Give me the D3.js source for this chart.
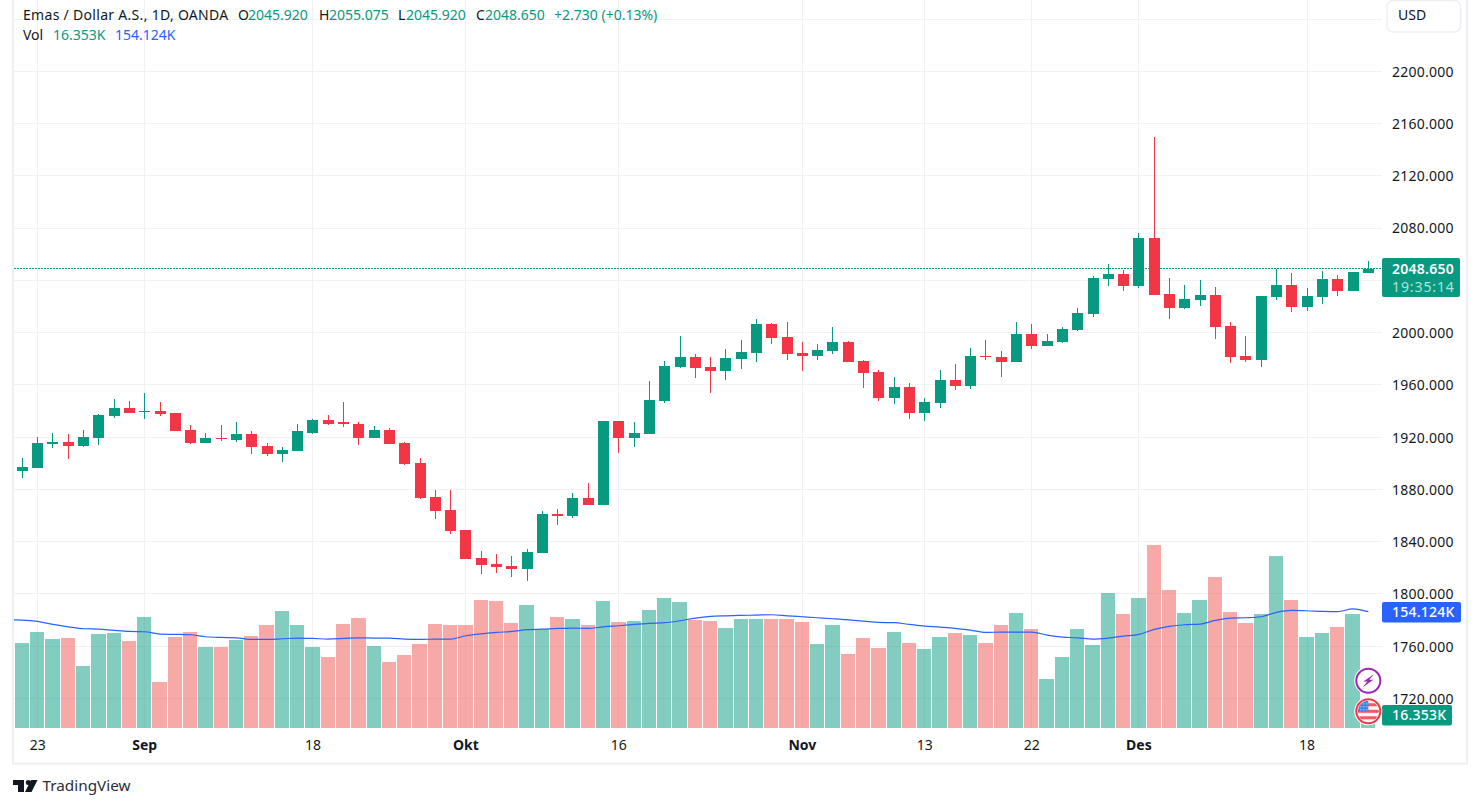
<!DOCTYPE html>
<html>
<head>
<meta charset="utf-8">
<script src="https://cdn.jsdelivr.net/npm/d3@7"></script>
<style>
  html, body { margin: 0; padding: 0; background: #fff; }
  svg { display: block; font-family: "Noto Sans", sans-serif; }
</style>
</head>
<body>
<div id="chart"></div>
<script>
// Daily candles
const opens = [1894.4,1896.7,1915.1,1916.6,1913.5,1919.7,1936.5,1942.6,1939.8,1940.3,1938.8,1925.8,1915.8,1919.7,1918.1,1922.7,1913.5,1907.4,1909.7,1923.5,1933.4,1931.2,1930.4,1919.5,1925.6,1915.7,1900.3,1874.3,1864.3,1849.0,1827.6,1823.0,1821.5,1819.2,1831.4,1861.3,1859.7,1873.5,1868.2,1932.5,1919.5,1922.6,1947.4,1973.4,1981.1,1973.4,1970.4,1979.6,1984.2,2006.4,1996.4,1984.2,1981.9,1985.7,1992.6,1978.0,1969.6,1949.7,1958.1,1938.2,1945.9,1963.5,1958.9,1981.9,1981.1,1977.3,1998.7,1989.5,1992.6,2001.8,2014.0,2040.8,2044.7,2035.5,2072.2,2029.4,2018.6,2024.8,2028.6,2004.9,1981.9,1978.8,2027.1,2036.3,2019.4,2027.1,2040.8,2031.7,2045.92];
const highs = [1904.3,1920.4,1923.5,1922.7,1925.8,1938.0,1949.5,1948.0,1953.4,1946.5,1938.8,1929.6,1923.5,1929.6,1931.2,1924.3,1915.8,1912.8,1930.4,1934.2,1937.3,1947.2,1931.7,1928.7,1927.1,1916.4,1904.2,1879.7,1879.7,1849.0,1832.9,1830.6,1829.1,1834.5,1863.6,1865.1,1877.4,1885.0,1932.5,1932.5,1931.7,1962.7,1978.0,1997.2,1983.4,1981.1,1987.2,1994.1,2010.2,2007.1,2007.9,1992.6,1991.1,2004.1,1993.4,1978.8,1971.1,1965.8,1961.2,1949.7,1971.1,1975.7,1988.0,1994.1,1985.7,2007.9,2006.4,1998.7,2004.1,2018.6,2043.1,2052.3,2047.7,2076.1,2149.7,2041.6,2036.3,2040.1,2034.7,2007.9,1997.2,2027.8,2048.5,2045.4,2034.0,2047.0,2043.9,2046.2,2055.075];
const lows = [1889.0,1896.7,1912.0,1903.6,1912.8,1914.3,1935.0,1938.8,1934.2,1936.5,1925.0,1915.1,1915.8,1917.4,1916.6,1907.4,1905.9,1901.3,1909.7,1922.7,1929.6,1928.1,1914.1,1919.5,1914.9,1898.8,1872.8,1857.5,1846.0,1826.8,1815.3,1816.1,1813.0,1810.0,1831.4,1852.9,1858.2,1868.2,1868.2,1908.0,1912.6,1922.6,1945.9,1972.7,1965.0,1953.5,1963.5,1971.9,1977.3,1991.1,1978.8,1970.4,1978.8,1983.4,1977.3,1957.4,1947.4,1945.1,1933.6,1932.1,1942.0,1955.8,1956.6,1978.8,1965.8,1977.3,1987.2,1989.5,1991.8,2001.0,2011.7,2035.5,2031.7,2034.0,2028.6,2010.2,2017.9,2020.2,1994.9,1976.5,1977.3,1973.4,2024.8,2015.6,2016.3,2021.7,2027.8,2031.7,2045.92];
const closes = [1897.5,1915.8,1916.6,1913.5,1920.4,1937.3,1942.6,1938.8,1940.3,1938.0,1925.0,1915.8,1919.7,1918.9,1922.7,1912.8,1907.4,1910.5,1924.3,1933.4,1930.4,1930.4,1919.5,1925.6,1914.9,1899.6,1873.5,1863.6,1848.3,1826.8,1822.2,1820.7,1819.2,1832.2,1861.3,1859.7,1873.5,1868.2,1932.5,1919.5,1923.3,1948.2,1974.2,1981.1,1972.7,1970.4,1980.3,1984.9,2006.4,1995.7,1983.4,1981.9,1986.5,1992.6,1977.3,1968.9,1949.7,1958.1,1938.2,1946.6,1963.5,1958.9,1981.9,1981.1,1977.3,1998.7,1989.5,1993.4,2002.6,2014.8,2041.6,2044.7,2035.5,2072.2,2028.6,2018.6,2025.5,2028.6,2004.1,1981.1,1978.8,2027.8,2036.3,2019.4,2027.8,2040.8,2031.7,2046.2,2048.65];

// Volume and its moving average, in thousands
const volumes = [112.4,127.1,117.8,119.1,81.9,124.4,125.7,115.1,147.0,60.7,120.4,127.1,107.1,107.1,116.4,121.7,136.4,154.9,136.4,107.1,93.9,137.7,145.6,108.5,87.2,96.5,111.1,137.7,136.4,136.4,169.6,168.2,139.0,162.9,131.0,147.0,144.3,136.4,168.2,140.3,141.7,156.3,172.2,166.9,143.0,141.7,132.4,144.3,144.3,144.3,144.3,140.3,111.1,136.4,97.8,119.1,105.8,127.1,112.4,104.5,120.4,125.7,123.1,112.4,136.4,152.3,131.0,64.6,93.9,131.0,109.8,178.8,151.0,172.2,242.6,182.8,152.3,169.6,200.1,153.6,139.0,151.0,228.0,169.6,120.4,125.7,133.7,151.0,16.353];
const volumeMA = [143.0,141.2,137.2,134.1,131.5,131.0,129.3,127.9,127.5,124.4,124.0,123.5,120.9,120.0,119.5,117.3,117.3,118.2,119.1,118.6,117.8,118.6,119.5,119.1,119.1,117.8,117.3,117.8,117.8,122.2,124.8,126.6,127.9,130.2,131.0,131.9,132.4,131.9,134.1,135.5,137.2,138.6,139.5,142.1,145.6,147.9,148.7,149.2,149.6,150.1,148.7,147.4,146.1,144.8,143.4,141.7,139.9,139.5,137.2,135.0,133.7,131.9,129.7,126.6,127.1,127.1,127.1,123.1,120.4,119.5,117.8,119.1,121.7,124.0,130.6,134.6,136.8,137.7,142.5,145.6,146.1,147.4,153.2,155.8,155.4,154.5,154.1,158.0,154.124];
const volumeMAOffscreen = 143.4;  // the bar before the first one, only its line end shows

// Axis ticks
const priceTicks = [1720,1760,1800,1840,1880,1920,1960,2000,2040,2080,2120,2160,2200,2240];
const hiddenPriceLabels = [2040,2240];  // covered by the price tag and the USD button
const timeTickIndex = [1,8,19,29,39,51,59,66,73,84];
const timeTickLabel = ["23","Sep","18","Okt","16","Nov","13","22","Des","18"];
const monthLabels = ["Sep","Okt","Nov","Des"];

// Header and tag texts
const lastPrice = 2048.65;
const lastVolume = 16.353;
const lastMA = 154.124;

// Constants for the chart
const WIDTH = 1480;
const HEIGHT = 807;
const PANE = { left: 14, right: 1382, top: 0, bottom: 728 };
const GREEN = "#089981";
const RED = "#f23645";
const BLUE = "#2962ff";
const GRID = "#f0f1f5";
const TEXT = "#131722";

const x = d3.scaleLinear().domain([0, 88]).range([22.4, 1368.3]);
const y = d3.scaleLinear().domain([1720, 2200]).range([698.4, 71.3]);
const yVol = d3.scaleLinear().domain([0, 154.124]).range([727.8, 611.7]);

const svg = d3.select("#chart").append("svg")
  .attr("width", WIDTH).attr("height", HEIGHT);

svg.append("clipPath").attr("id", "pane").append("rect")
  .attr("x", PANE.left).attr("y", PANE.top)
  .attr("width", PANE.right - PANE.left).attr("height", PANE.bottom - PANE.top);

drawFrame();
drawGrid();
drawVolume();
drawCandles();
drawAxes();
drawHeader();
drawTags();
drawIcons();
drawLogo();

/**
 * Light border round the chart
 */
function drawFrame () {
  svg.append("rect")
    .attr("x", 13).attr("y", -5).attr("width", 1454).attr("height", 768.5)
    .attr("fill", "none").attr("stroke", "#eeeff4").attr("stroke-width", 2);
}

/**
 * Horizontal and vertical grid lines
 */
function drawGrid () {
  const grid = svg.append("g").attr("shape-rendering", "crispEdges");
  grid.selectAll("line.h").data(priceTicks).join("line")
    .attr("class", "h")
    .attr("x1", PANE.left).attr("x2", PANE.right)
    .attr("y1", (d) => Math.floor(y(d)) + 0.5).attr("y2", (d) => Math.floor(y(d)) + 0.5)
    .attr("stroke", GRID);
  grid.selectAll("line.v").data(timeTickIndex).join("line")
    .attr("class", "v")
    .attr("x1", (d) => Math.floor(x(d)) + 0.5).attr("x2", (d) => Math.floor(x(d)) + 0.5)
    .attr("y1", PANE.top).attr("y2", PANE.bottom)
    .attr("stroke", GRID);
}

/**
 * Volume bars coloured by candle direction, and the moving average on top
 */
function drawVolume () {
  const pane = svg.append("g").attr("clip-path", "url(#pane)");
  pane.append("g").attr("shape-rendering", "crispEdges")
    .selectAll("rect").data(volumes).join("rect")
    .attr("x", (d, i) => Math.round(x(i - 0.5)))
    .attr("width", (d, i) => Math.round(x(i + 0.5)) - Math.round(x(i - 0.5)) - 1)
    .attr("y", (d) => yVol(d))
    .attr("height", (d) => yVol(0) - yVol(d))
    .attr("fill", (d, i) => closes[i] >= opens[i] ? "rgba(8,153,129,0.5)" : "rgba(239,83,80,0.5)");

  const line = d3.line().x((d, i) => x(i - 1)).y((d) => yVol(d)).curve(d3.curveMonotoneX);
  pane.append("path")
    .attr("d", line([volumeMAOffscreen].concat(volumeMA)))
    .attr("fill", "none").attr("stroke", BLUE).attr("stroke-width", 1.2);
}

/**
 * Candles: a 1px wick and an 11px body
 */
function drawCandles () {
  const pane = svg.append("g").attr("shape-rendering", "crispEdges");

  // dotted line at the last price goes under the candles
  pane.append("line")
    .attr("x1", PANE.left).attr("x2", PANE.right)
    .attr("y1", Math.round(y(lastPrice)) - 0.5).attr("y2", Math.round(y(lastPrice)) - 0.5)
    .attr("stroke", GREEN).attr("stroke-dasharray", "2 1");

  const candle = pane.selectAll("g.candle").data(opens).join("g")
    .attr("class", "candle")
    .attr("fill", (d, i) => closes[i] >= opens[i] ? GREEN : RED);
  candle.append("rect")
    .attr("x", (d, i) => Math.floor(x(i)))
    .attr("width", 1)
    .attr("y", (d, i) => y(highs[i]))
    .attr("height", (d, i) => y(lows[i]) - y(highs[i]));
  candle.append("rect")
    .attr("x", (d, i) => Math.floor(x(i)) - 5)
    .attr("width", 11)
    .attr("y", (d, i) => y(Math.max(opens[i], closes[i])))
    .attr("height", (d, i) => Math.max(1, Math.abs(y(opens[i]) - y(closes[i]))));
}

/**
 * Price labels on the right and date labels below
 */
function drawAxes () {
  svg.append("g").selectAll("text")
    .data(priceTicks.filter((d) => !hiddenPriceLabels.includes(d)))
    .join("text")
    .attr("x", 1392).attr("y", (d) => y(d) + 0.5)
    .attr("dy", "0.35em")
    .attr("font-size", 14).attr("letter-spacing", "0.25px").attr("fill", TEXT)
    .text((d) => d3.format(".3f")(d));

  svg.append("g").selectAll("text").data(timeTickIndex).join("text")
    .attr("x", (d) => x(d)).attr("y", 745.5)
    .attr("dy", "0.35em").attr("text-anchor", "middle")
    .attr("font-size", 14).attr("fill", TEXT)
    .attr("font-weight", (d, i) => monthLabels.includes(timeTickLabel[i]) ? 700 : 400)
    .text((d, i) => timeTickLabel[i]);
}

/**
 * Legend in the top left corner and the currency button
 */
function drawHeader () {
  const row1 = [
    [23, "Emas / Dollar A.S., 1D, OANDA", TEXT, 0.3],
    [238, "O", TEXT, 0], [248, "2045.920", GREEN, 0],
    [319, "H", TEXT, 0], [329, "2055.075", GREEN, 0],
    [398, "L", TEXT, 0], [406, "2045.920", GREEN, 0],
    [476, "C", TEXT, 0], [485, "2048.650", GREEN, 0],
    [554, "+2.730 (+0.13%)", GREEN, 0]
  ];
  const row2 = [
    [23, "Vol", TEXT, 0], [53, "16.353K", GREEN, 0], [115, "154.124K", BLUE, 0]
  ];
  const legend = svg.append("g").attr("font-size", 14);
  legend.selectAll("text.r1").data(row1).join("text").attr("class", "r1")
    .attr("x", (d) => d[0]).attr("y", 15.5).attr("dy", "0.35em")
    .attr("letter-spacing", (d) => d[3])
    .attr("fill", (d) => d[2]).text((d) => d[1]);
  legend.selectAll("text.r2").data(row2).join("text").attr("class", "r2")
    .attr("x", (d) => d[0]).attr("y", 35.5).attr("dy", "0.35em")
    .attr("letter-spacing", (d) => d[3])
    .attr("fill", (d) => d[2]).text((d) => d[1]);

  svg.append("rect")
    .attr("x", 1387).attr("y", 0.5).attr("width", 73.5).attr("height", 31.5).attr("rx", 6)
    .attr("fill", "#fff").attr("stroke", "#eeeff4").attr("stroke-width", 1.5);
  svg.append("text")
    .attr("x", 1398).attr("y", 15.5).attr("dy", "0.35em")
    .attr("font-size", 14).attr("fill", TEXT).text("USD");
}

/**
 * Coloured tags on the price scale
 */
function drawTags () {
  const tags = svg.append("g");
  tags.append("rect").attr("x", 1382).attr("y", 258).attr("width", 78).attr("height", 39)
    .attr("rx", 2).attr("fill", GREEN);
  tags.append("text").attr("x", 1392).attr("y", y(lastPrice)).attr("dy", "0.35em")
    .attr("font-size", 14).attr("font-weight", 600).attr("fill", "#fff").attr("letter-spacing", "0.25px")
    .text(d3.format(".3f")(lastPrice));
  tags.append("text").attr("x", 1392).attr("y", 287).attr("dy", "0.35em")
    .attr("font-size", 14).attr("fill", "#b5e0d9").attr("letter-spacing", "0.9px")
    .text("19:35:14");

  tags.append("rect").attr("x", 1382).attr("y", 602).attr("width", 79).attr("height", 20.5)
    .attr("rx", 2).attr("fill", BLUE);
  tags.append("text").attr("x", 1392).attr("y", yVol(lastMA) + 0.5).attr("dy", "0.35em")
    .attr("font-size", 14).attr("font-weight", 500).attr("fill", "#fff").attr("letter-spacing", "0.25px")
    .text(d3.format(".3f")(lastMA) + "K");

  tags.append("rect").attr("x", 1382).attr("y", 705).attr("width", 70).attr("height", 20.5)
    .attr("rx", 2).attr("fill", GREEN);
  tags.append("text").attr("x", 1392).attr("y", 715.5).attr("dy", "0.35em")
    .attr("font-size", 14).attr("font-weight", 500).attr("fill", "#fff").attr("letter-spacing", "0.25px")
    .text(d3.format(".3f")(lastVolume) + "K");
}

/**
 * The two event badges next to the last bar
 */
function drawIcons () {
  const bolt = svg.append("g").attr("transform", "translate(1368.3,680.7)");
  bolt.append("circle").attr("r", 14).attr("fill", "#fff");
  bolt.append("circle").attr("r", 12).attr("fill", "#fff").attr("stroke", "#9c27b0").attr("stroke-width", 2);
  bolt.append("path").attr("d", "M5.5,-6.5 L-5,0.8 L-1,0.8 L-5.5,6.5 L5,-1 L1,-1 Z")
    .attr("fill", "#9c27b0");

  svg.append("clipPath").attr("id", "flag").append("circle").attr("r", 10.5);
  const flag = svg.append("g").attr("transform", "translate(1368.3,711.3)");
  flag.append("circle").attr("r", 14).attr("fill", "#fff");
  const inner = flag.append("g").attr("clip-path", "url(#flag)");
  inner.append("rect").attr("x", -11).attr("y", -11).attr("width", 22).attr("height", 22).attr("fill", "#f5f5f5");
  inner.selectAll("rect.stripe").data([-8, -1.5, 5]).join("rect").attr("class", "stripe")
    .attr("x", -11).attr("y", (d) => d).attr("width", 22).attr("height", 3).attr("fill", "#f4575f");
  inner.append("rect").attr("x", -11).attr("y", -11).attr("width", 11).attr("height", 11).attr("fill", "#3d85e8");
  inner.selectAll("rect.star").data([[-8,-8],[-5,-8],[-2,-8],[-8,-5],[-5,-5],[-2,-5],[-8,-2],[-5,-2],[-2,-2]]).join("rect")
    .attr("class", "star")
    .attr("x", (d) => d[0]).attr("y", (d) => d[1]).attr("width", 1).attr("height", 1).attr("fill", "#dcebfb");
  flag.append("circle").attr("r", 12).attr("fill", "none").attr("stroke", "#f23645").attr("stroke-width", 2);
}

/**
 * TradingView mark and name below the chart
 */
function drawLogo () {
  svg.append("path")
    .attr("d", "M13,780 H24 V792 H18 V785 H13 Z M31,780 H37.5 L31.5,792 H25 Z")
    .attr("fill", TEXT);
  svg.append("circle").attr("cx", 28.3).attr("cy", 782.6).attr("r", 2.5).attr("fill", TEXT);
  svg.append("text").attr("x", 42.5).attr("y", 786).attr("dy", "0.35em")
    .attr("font-size", 15.3).attr("fill", "#2a2e39").text("TradingView");
}
</script>
</body>
</html>
